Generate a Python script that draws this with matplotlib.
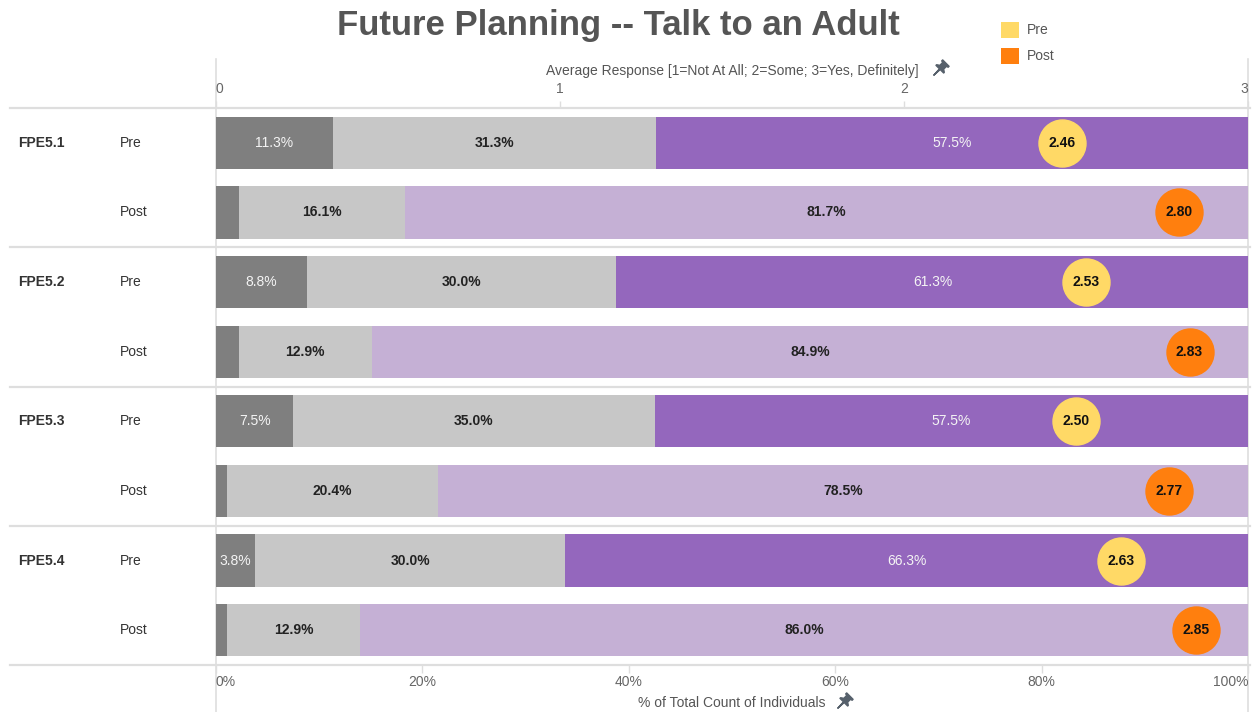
import matplotlib
matplotlib.use('Agg')
import matplotlib.pyplot as plt
from matplotlib.patches import Patch
from matplotlib.path import Path
from matplotlib.markers import MarkerStyle
from matplotlib.transforms import Affine2D, blended_transform_factory

plt.rcParams['font.family'] = ['Liberation Sans', 'DejaVu Sans']

# data
questions = ['FPE5.1', 'FPE5.2', 'FPE5.3', 'FPE5.4']
phases = ['Pre', 'Post']
# % per response: Not At All / Some / Yes, Definitely  (rows: q1 pre, q1 post, q2 pre, ...)
pct_not = [11.3, 2.2, 8.8, 2.2, 7.5, 1.1, 3.8, 1.1]
pct_some = [31.3, 16.1, 30.0, 12.9, 35.0, 20.4, 30.0, 12.9]
pct_yes = [57.5, 81.7, 61.3, 84.9, 57.5, 78.5, 66.3, 86.0]
avg_resp = [2.46, 2.80, 2.53, 2.83, 2.50, 2.77, 2.63, 2.85]

W, H = 1258, 712
fig = plt.figure(figsize=(W / 100, H / 100), dpi=100)
ax = fig.add_axes([216 / W, 47 / H, 1032 / W, 557 / H])

c_not = '#7f7f7f'
c_some = '#c7c7c7'
c_yes = {'Pre': '#9467bd', 'Post': '#c5b0d5'}
c_dot = {'Pre': '#ffd966', 'Post': '#ff7f0e'}

rows = list(range(len(pct_not)))
ypos = [r + 0.5 for r in rows]
bh = 0.75

for r in rows:
    ph = phases[r % 2]
    y = ypos[r]
    left = 0
    segs = [(pct_not[r], c_not), (pct_some[r], c_some), (pct_yes[r], c_yes[ph])]
    for k, (v, col) in enumerate(segs):
        ax.barh(y, v, left=left, height=bh, color=col, linewidth=0)
        show = not (k == 0 and ph == 'Post')
        if show:
            if k == 1 or ph == 'Post':
                ax.text(left + v / 2, y, f'{v:.1f}%', ha='center', va='center',
                        fontsize=10, fontweight='bold', color='#222222')
            else:
                ax.text(left + v / 2, y, f'{v:.1f}%', ha='center', va='center',
                        fontsize=10, color='#f4f4f4')
        left += v
    # average response dot, on the 0-3 scale
    xa = avg_resp[r] / 3 * 100
    ax.scatter(xa, y, s=1145, color=c_dot[ph], edgecolor=c_dot[ph], linewidth=1, zorder=3)
    ax.text(xa, y, f'{avg_resp[r]:.2f}', ha='center', va='center', fontsize=10,
            fontweight='bold', color='#111111', zorder=4)

ax.set_xlim(0, 100)
ax.set_ylim(len(rows), 0)
ax.set_yticks([])
for s in ax.spines.values():
    s.set_visible(False)

# row headers on the left
tr = blended_transform_factory(ax.transAxes, ax.transData)
for r in rows:
    ph = phases[r % 2]
    if ph == 'Pre':
        ax.text(-0.1919, ypos[r], questions[r // 2], transform=tr, ha='left', va='center',
                fontsize=10, fontweight='bold', color='#333333')
    ax.text(-0.093, ypos[r], ph, transform=tr, ha='left', va='center',
            fontsize=10, color='#333333')

# separators
for g in range(0, len(rows) + 1, 2):
    ax.axhline(g, xmin=-0.1996, xmax=1.002, color='#dedede', lw=1.6, clip_on=False, zorder=0)
ax.axvline(0, ymin=-0.085, ymax=1.088, color='#dedede', lw=1.2, clip_on=False, zorder=0)
ax.axvline(100, ymin=-0.085, ymax=1.088, color='#dedede', lw=1.2, clip_on=False, zorder=0)

# bottom axis: percent
ax.set_xticks([0, 20, 40, 60, 80, 100])
ax.set_xticklabels(['0%', '20%', '40%', '60%', '80%', '100%'])
ax.tick_params(axis='x', bottom=True, length=6, width=1, color='#dedede',
               labelsize=10, labelcolor='#666666', pad=1)
xl = ax.get_xticklabels()
xl[0].set_ha('left')
xl[-1].set_ha('right')
ax.set_xlabel('% of Total Count of Individuals', fontsize=10, color='#555555', labelpad=5)

# top axis: average response 0-3
sec = ax.secondary_xaxis('top', functions=(lambda x: x * 0.03, lambda x: x / 0.03))
sec.set_xticks([0, 1, 2, 3])
sec.set_xticklabels(['0', '1', '2', '3'])
sec.tick_params(axis='x', length=5, width=1, color='#dedede', labelsize=10,
                labelcolor='#666666', pad=3.5)
sec.spines['top'].set_visible(False)
tl = sec.get_xticklabels()
tl[0].set_ha('left')
tl[-1].set_ha('right')
sec.set_xlabel('Average Response [1=Not At All; 2=Some; 3=Yes, Definitely]', fontsize=10,
               color='#555555', labelpad=5.5)

# pin icons next to axis titles
pin = Path([(-0.5, 1.0), (0.5, 1.0), (0.5, 0.85), (0.3, 0.8), (0.3, 0.35), (0.6, 0.15),
            (0.6, 0.05), (0.06, 0.05), (0, -0.9), (-0.06, 0.05), (-0.6, 0.05), (-0.6, 0.15),
            (-0.3, 0.35), (-0.3, 0.8), (-0.5, 0.85), (-0.5, 1.0)], closed=True)
pin_m = MarkerStyle(pin, transform=Affine2D().rotate_deg(-45))
fig.lines.append(plt.Line2D([939 / W], [1 - 69 / H], marker=pin_m, markersize=13,
                            color='#56606b', linestyle='none', transform=fig.transFigure))
fig.lines.append(plt.Line2D([843 / W], [1 - 702 / H], marker=pin_m, markersize=13,
                            color='#56606b', linestyle='none', transform=fig.transFigure))

fig.text(618 / W, 1 - 26 / H, 'Future Planning -- Talk to an Adult', ha='center', va='center',
         fontsize=25, fontweight='bold', color='#555555')

handles = [Patch(facecolor=c_dot['Pre'], label='Pre'), Patch(facecolor=c_dot['Post'], label='Post')]
fig.legend(handles=handles, loc='upper left', bbox_to_anchor=(1001 / W, 1 - 22 / H), frameon=False,
           fontsize=10, handlelength=1.3, handleheight=1.35, labelspacing=0.75, handletextpad=0.55,
           labelcolor='#555555', borderaxespad=0, borderpad=0)

fig.savefig('out.png', dpi=100)
